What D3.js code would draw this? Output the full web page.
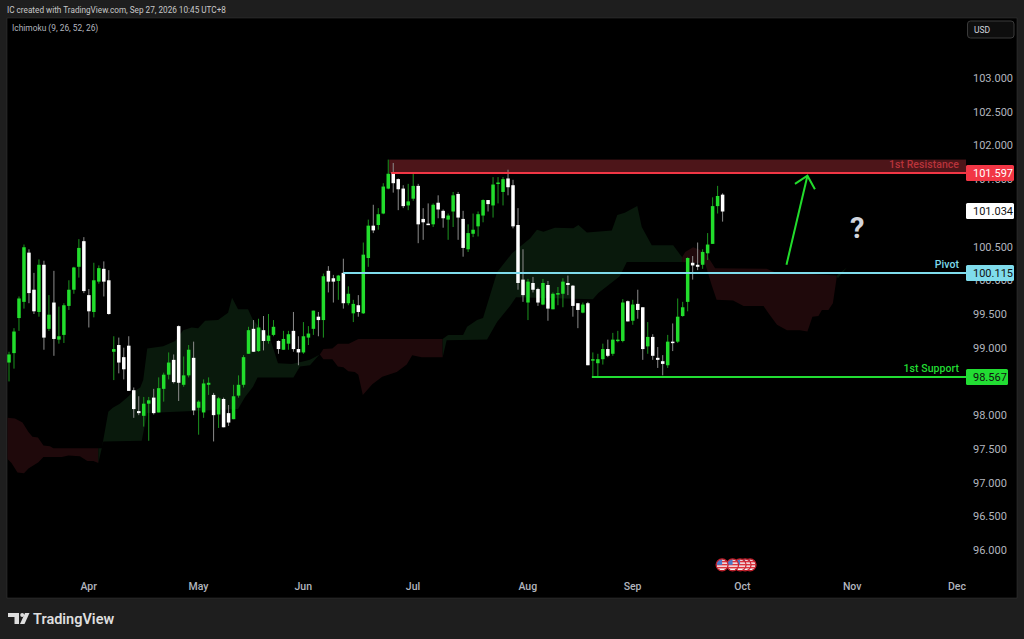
<!DOCTYPE html>
<html>
<head>
<meta charset="utf-8">
<title>IC chart</title>
<script src="https://cdn.jsdelivr.net/npm/d3@7"></script>
<style>
  html, body { margin: 0; padding: 0; background: #1e1e1e; overflow: hidden; }
  svg { display: block; }
  text { font-family: Roboto, sans-serif; }
</style>
</head>
<body>
<svg id="chart" width="1024" height="639"></svg>
<script>
// Daily candles
let opens = [
  98.78, 98.92, 99.44, 99.68, 100.41, 99.86, 99.53, 100.23, 99.28, 99.67,
  99.12, 99.19, 99.62, 99.86, 100.20, 100.58, 99.78, 99.53, 99.98, 100.17,
  100.00, 98.94, 99.04, 98.86, 99.03, 98.37, 98.06, 97.99, 98.17, 98.26,
  98.04, 98.39, 98.60, 98.82, 99.32, 98.45, 98.59, 98.85, 98.11, 98.04,
  98.45, 98.30, 98.01, 98.24, 98.03, 97.94, 98.29, 98.45, 98.91, 99.28,
  98.95, 99.26, 99.10, 99.19, 99.10, 98.97, 99.06, 99.25, 98.98, 98.93,
  99.15, 99.28, 99.46, 99.41, 100.14, 100.03, 99.99, 100.11, 99.66, 99.51,
  99.63, 99.51, 100.33, 100.81, 100.82, 100.99, 101.36, 101.60, 101.50, 101.36,
  101.11, 101.21, 101.40, 100.91, 100.84, 100.83, 101.15, 101.03, 100.90, 101.02,
  101.28, 100.91, 100.46, 100.69, 100.80, 100.96, 101.19, 101.11, 101.43, 101.31,
  101.51, 101.41, 100.82, 100.01, 99.67, 99.96, 99.87, 99.64, 99.93, 99.57,
  99.79, 99.80, 99.96, 99.92, 99.66, 99.52, 99.66, 98.82, 98.77, 98.83,
  98.98, 98.91, 99.10, 99.10, 99.69, 99.40, 99.65, 99.60, 99.02, 99.16,
  98.85, 98.80, 98.74, 99.09, 99.09, 99.47, 99.68, 100.26, 100.23, 100.23,
  100.40, 100.54, 101.10, 101.27
];
let closes = [
  98.90, 99.24, 99.73, 100.49, 99.81, 99.54, 100.23, 99.15, 99.49, 99.13,
  99.17, 99.63, 99.86, 100.19, 100.48, 99.84, 99.54, 100.00, 100.18, 99.98,
  99.50, 98.98, 98.78, 98.68, 98.36, 98.09, 98.03, 98.17, 98.22, 98.03,
  98.40, 98.60, 98.78, 98.49, 98.48, 98.59, 98.97, 98.07, 98.20, 98.47,
  98.48, 98.00, 98.25, 97.82, 97.89, 98.28, 98.45, 98.86, 99.26, 98.94,
  99.30, 99.10, 99.18, 99.31, 98.98, 99.13, 99.20, 98.98, 98.93, 99.17,
  99.21, 99.55, 99.41, 100.06, 99.98, 99.98, 100.07, 99.66, 99.80, 99.65,
  99.53, 100.38, 100.81, 100.74, 100.98, 101.39, 101.58, 101.44, 101.35, 101.10,
  101.17, 101.40, 100.83, 100.86, 100.83, 101.12, 101.05, 100.92, 100.96, 101.26,
  100.93, 100.48, 100.70, 100.75, 100.98, 101.19, 101.13, 101.42, 101.45, 101.50,
  101.38, 100.80, 99.96, 99.78, 99.98, 99.86, 99.67, 99.96, 99.58, 99.80,
  99.81, 99.98, 99.93, 99.62, 99.56, 99.64, 98.74, 98.83, 98.83, 98.98,
  98.88, 99.12, 99.12, 99.67, 99.39, 99.64, 99.56, 98.98, 99.16, 98.88,
  98.82, 98.76, 99.09, 99.08, 99.46, 99.60, 100.33, 100.22, 100.20, 100.42,
  100.53, 101.10, 101.25, 101.02
];
let highs = [
  98.94, 99.29, 99.76, 100.53, 100.46, 100.11, 100.31, 100.29, 99.78, 100.14,
  99.61, 99.66, 100.00, 100.20, 100.61, 100.64, 99.87, 100.26, 100.22, 100.28,
  100.15, 99.17, 99.15, 99.00, 99.17, 98.41, 98.28, 98.27, 98.27, 98.39,
  98.56, 98.63, 98.93, 98.90, 99.33, 98.87, 99.04, 99.09, 98.22, 98.53,
  98.56, 98.33, 98.27, 98.26, 98.15, 98.45, 98.59, 98.89, 99.31, 99.41,
  99.43, 99.47, 99.50, 99.41, 99.11, 99.25, 99.25, 99.53, 99.17, 99.38,
  99.32, 99.55, 99.53, 100.10, 100.21, 100.08, 100.08, 100.32, 99.91, 99.71,
  99.78, 100.56, 100.90, 101.12, 101.07, 101.44, 101.79, 101.74, 101.51, 101.41,
  101.43, 101.58, 101.43, 101.07, 101.14, 101.14, 101.26, 101.05, 100.99, 101.31,
  101.31, 101.03, 100.83, 100.99, 101.02, 101.20, 101.19, 101.53, 101.53, 101.53,
  101.64, 101.49, 101.07, 100.46, 100.02, 100.05, 99.89, 100.02, 99.99, 99.82,
  99.90, 100.03, 100.07, 99.93, 99.66, 99.67, 99.68, 98.93, 98.91, 99.06,
  99.12, 99.22, 99.25, 99.72, 99.70, 99.71, 99.86, 99.60, 99.38, 99.20,
  99.01, 98.89, 99.19, 99.36, 99.73, 99.68, 100.34, 100.36, 100.56, 100.46,
  100.70, 101.23, 101.40, 101.29
];
let lows = [
  98.50, 98.69, 99.25, 99.58, 99.66, 99.50, 99.46, 98.97, 99.25, 98.88,
  99.06, 99.07, 99.56, 99.80, 100.04, 99.81, 99.30, 99.45, 99.95, 99.76,
  99.49, 98.52, 98.62, 98.53, 98.36, 97.96, 98.00, 97.83, 97.62, 98.01,
  98.04, 98.20, 98.53, 98.47, 98.21, 98.42, 98.56, 98.00, 97.71, 97.96,
  98.30, 97.61, 97.81, 97.82, 97.84, 97.94, 98.26, 98.41, 98.91, 98.94,
  98.94, 98.96, 99.06, 99.17, 98.91, 98.97, 98.97, 98.94, 98.74, 98.91,
  99.04, 99.19, 99.17, 99.15, 99.82, 99.67, 99.71, 99.58, 99.63, 99.38,
  99.46, 99.50, 100.20, 100.70, 100.75, 100.98, 101.35, 101.30, 101.04, 101.07,
  101.04, 101.18, 100.55, 100.60, 100.82, 100.79, 100.92, 100.78, 100.60, 100.79,
  100.60, 100.35, 100.42, 100.64, 100.65, 100.86, 101.02, 100.93, 101.14, 101.11,
  101.26, 100.77, 99.86, 99.68, 99.41, 99.82, 99.62, 99.63, 99.40, 99.57,
  99.63, 99.60, 99.78, 99.46, 99.29, 99.51, 98.74, 98.56, 98.56, 98.75,
  98.86, 98.88, 99.08, 99.08, 99.39, 99.34, 99.43, 98.82, 98.91, 98.82,
  98.70, 98.59, 98.70, 98.95, 99.07, 99.46, 99.54, 100.01, 100.15, 100.17,
  100.30, 100.54, 100.99, 100.87
];

// Ichimoku cloud outlines as [bar, price]
let redOneTop = [[-0.3, 97.96], [1.2, 97.95], [2.7, 97.89], [3.9, 97.75], [4.7, 97.68], [5.8, 97.67], [6.9, 97.55], [8.2, 97.54], [8.9, 97.51], [17.9, 97.51]];
let redOneBottom = [[-0.3, 97.35], [0.5, 97.29], [1.7, 97.15], [3.0, 97.14], [3.9, 97.21], [5.9, 97.30], [6.9, 97.38], [10.6, 97.38], [11.9, 97.40], [14.2, 97.39], [15.7, 97.32], [16.9, 97.32], [17.9, 97.29]];
let greenOneTop = [[17.9, 97.51], [18.6, 97.51], [19.9, 98.05], [20.8, 98.11], [22.2, 98.17], [23.8, 98.27], [24.6, 98.33], [26.3, 98.41], [26.9, 98.52], [27.7, 98.99], [30.9, 99.02], [33.3, 99.10], [34.9, 99.26], [36.6, 99.30], [37.9, 99.29], [39.3, 99.40], [41.9, 99.41], [43.9, 99.52], [44.7, 99.74], [45.9, 99.57], [47.9, 99.57], [48.9, 99.41], [52.3, 99.14], [53.9, 98.77], [56.7, 98.76], [58.7, 98.79], [60.3, 98.82], [62.3, 98.90]];
let greenOneBottom = [[17.9, 97.29], [18.9, 97.61], [26.6, 97.62], [27.7, 98.03], [45.9, 98.09], [47.3, 98.27], [48.9, 98.42], [49.8, 98.56], [57.0, 98.56], [58.3, 98.72], [60.3, 98.74], [62.0, 98.88], [62.3, 98.90]];
let redTwoTop = [[62.3, 98.90], [63.0, 98.98], [64.8, 98.99], [65.9, 99.06], [68.1, 99.06], [70.0, 99.13], [86.9, 99.13]];
let redTwoBottom = [[62.3, 98.90], [63.0, 98.83], [64.8, 98.83], [65.9, 98.72], [67.0, 98.71], [68.0, 98.65], [69.3, 98.64], [70.0, 98.60], [70.9, 98.30], [72.8, 98.46], [74.8, 98.57], [77.7, 98.64], [79.7, 98.75], [80.8, 98.89], [82.7, 98.86], [86.9, 98.86]];
let greenTwoTop = [[86.9, 99.13], [88.0, 99.19], [91.0, 99.19], [91.8, 99.31], [93.8, 99.41], [95.0, 99.44], [97.8, 100.12], [100.8, 100.40], [104.4, 100.62], [105.8, 100.75], [107.1, 100.72], [109.4, 100.78], [113.1, 100.77], [114.1, 100.82], [115.8, 100.71], [120.8, 100.74], [121.9, 100.97], [123.4, 101.00], [125.9, 101.10], [126.8, 100.79], [128.8, 100.52], [133.1, 100.52], [134.9, 100.34]];
let greenTwoBottom = [[86.9, 98.86], [87.7, 99.11], [95.8, 99.12], [97.8, 99.38], [100.4, 99.62], [101.6, 99.75], [117.0, 99.72], [118.1, 99.81], [122.4, 100.06], [123.8, 100.27], [134.9, 100.27]];
let redThreeTop = [[134.9, 100.34], [135.5, 100.42], [137.1, 100.49], [138.5, 100.45], [139.8, 100.38], [141.5, 100.18], [151.8, 100.17], [153.5, 100.12], [165.9, 100.07]];
let redThreeBottom = [[134.9, 100.27], [139.5, 100.25], [140.8, 99.93], [141.8, 99.71], [145.1, 99.70], [147.2, 99.62], [151.2, 99.62], [152.2, 99.51], [153.9, 99.34], [155.9, 99.26], [158.5, 99.26], [160.0, 99.24], [161.0, 99.46], [162.2, 99.47], [162.9, 99.56], [164.2, 99.56], [165.1, 99.66], [165.9, 100.06]];
let greenThreeTop = [[165.9, 100.07], [167.9, 100.19]];
let greenThreeBottom = [[165.9, 100.06], [166.1, 100.03], [167.9, 100.19]];

// Axis labels, 101.000 and 98.500 stay hidden behind the price boxes
let priceTicks = [103, 102.5, 102, 101.5, 100.5, 100, 99.5, 99, 98, 97.5, 97, 96.5, 96];
let monthBars = [16, 38, 59, 81, 104, 125, 147, 169, 190];
let monthNames = ["Apr", "May", "Jun", "Jul", "Aug", "Sep", "Oct", "Nov", "Dec"];

// Drawn levels and the arrow
let resistance = 101.597;
let resistanceTop = 101.79;
let pivot = 100.115;
let support = 98.567;
let lastPrice = 101.034;
let levelNames = ["1st Resistance", "Pivot", "1st Support"];
let levelValues = [resistance, pivot, support];
let levelStartBars = [76.6, 67, 116.8];
let levelColors = ["#f23645", "#7fdcec", "#22dd33"];
let labelColors = ["#b8333b", "#7fdcec", "#22dd33"];
let arrowShaft = [[155.8, 100.23], [160.0, 101.55]];
let arrowHead = [[157.5, 101.43], [160.0, 101.55], [161.5, 101.35]];
let eventBars = [142.9, 145, 146.5, 147.5, 148.5];
let eventPrice = 95.78;

let svg = d3.select("#chart");

let x = d3.scaleLinear().domain([0, 143]).range([9, 722.6]);
let y = d3.scaleLinear().domain([96, 103]).range([550, 78]);

// Levels sit on whole pixels like the original
function levelY(v) {
  return Math.ceil(y(v));
}

// Black chart area on the grey page
svg.append("rect")
  .attr("x", 7).attr("y", 18).attr("width", 1010).attr("height", 580)
  .attr("fill", "#000").attr("stroke", "#3a3a3a").attr("stroke-width", 0.5);

svg.append("clipPath").attr("id", "plot")
  .append("rect").attr("x", 7).attr("y", 18).attr("width", 959).attr("height", 580);

let plot = svg.append("g").attr("clip-path", "url(#plot)");

let line = d3.line()
  .x(function (d) { return x(d[0]); })
  .y(function (d) { return y(d[1]); });

// Cloud polygons, top edge out and bottom edge back
let clouds = [
  [redOneTop, redOneBottom, "#1f090b"],
  [greenOneTop, greenOneBottom, "#09190c"],
  [redTwoTop, redTwoBottom, "#1f090b"],
  [greenTwoTop, greenTwoBottom, "#09190c"],
  [redThreeTop, redThreeBottom, "#1f090b"],
  [greenThreeTop, greenThreeBottom, "#09190c"]
];
plot.selectAll("path.cloud")
  .data(clouds)
  .enter()
  .append("path")
  .attr("class", "cloud")
  .attr("d", function (c) {
    return line(c[0].concat(c[1].slice().reverse())) + "Z";
  })
  .attr("fill", function (c) { return c[2]; });

// Resistance zone sits behind the candles
plot.append("rect")
  .attr("x", x(76.2))
  .attr("y", y(resistanceTop))
  .attr("width", 966 - x(76.2))
  .attr("height", levelY(resistance) - y(resistanceTop))
  .attr("fill", "#4d1519");

// Candles
let candles = plot.selectAll("g.candle")
  .data(opens)
  .enter()
  .append("g")
  .attr("class", "candle");

candles.append("line")
  .attr("x1", function (d, i) { return x(i); })
  .attr("x2", function (d, i) { return x(i); })
  .attr("y1", function (d, i) { return y(highs[i]); })
  .attr("y2", function (d, i) { return y(lows[i]); })
  .attr("stroke", function (d, i) { return closes[i] >= d ? "#1c941f" : "#8c8c8c"; })
  .attr("stroke-width", 1);

candles.append("rect")
  .attr("x", function (d, i) { return x(i) - 1.75; })
  .attr("width", 3.5)
  .attr("y", function (d, i) { return y(Math.max(d, closes[i])); })
  .attr("height", function (d, i) { return Math.max(1.5, Math.abs(y(d) - y(closes[i]))); })
  .attr("fill", function (d, i) { return closes[i] >= d ? "#22dd2c" : "#ffffff"; });

// Level lines over the candles
plot.selectAll("line.level")
  .data(levelValues)
  .enter()
  .append("line")
  .attr("class", "level")
  .attr("x1", function (d, i) { return x(levelStartBars[i]); })
  .attr("x2", 966)
  .attr("y1", function (d) { return levelY(d); })
  .attr("y2", function (d) { return levelY(d); })
  .attr("stroke", function (d, i) { return levelColors[i]; })
  .attr("stroke-width", 2);

plot.selectAll("text.level-name")
  .data(levelNames)
  .enter()
  .append("text")
  .attr("class", "level-name")
  .attr("x", 959)
  .attr("y", function (d, i) { return levelY(levelValues[i]) - 5; })
  .attr("text-anchor", "end")
  .attr("font-size", 10.5)
  .attr("font-weight", 500)
  .attr("letter-spacing", 0.05)
  .attr("fill", function (d, i) { return labelColors[i]; })
  .text(function (d) { return d; });

// Arrow and question mark
[arrowShaft, arrowHead].forEach(function (pts) {
  plot.append("path")
    .attr("d", line(pts))
    .attr("fill", "none")
    .attr("stroke", "#22dd2c")
    .attr("stroke-width", 2);
});

plot.append("text")
  .attr("x", x(170))
  .attr("y", y(100.63))
  .attr("text-anchor", "middle")
  .attr("font-size", 29)
  .attr("font-weight", 700)
  .attr("fill", "#d1d4dc")
  .text("?");

// US calendar event flags
let defs = svg.append("defs");
let flags = svg.selectAll("g.flag")
  .data(eventBars.slice().reverse())
  .enter()
  .append("g")
  .attr("class", "flag")
  .attr("transform", function (d) { return "translate(" + x(d) + "," + y(eventPrice) + ")"; });

defs.append("clipPath").attr("id", "flagClip").append("circle").attr("r", 5.5);
flags.append("circle").attr("r", 5.5).attr("fill", "#f4f4f4");
flags.selectAll("rect.stripe")
  .data([-4, -1, 2])
  .enter()
  .append("rect")
  .attr("class", "stripe")
  .attr("clip-path", "url(#flagClip)")
  .attr("x", -6).attr("width", 12)
  .attr("y", function (d) { return d; })
  .attr("height", 1.6)
  .attr("fill", "#e0323c");
flags.append("rect")
  .attr("clip-path", "url(#flagClip)")
  .attr("x", -6).attr("y", -6).attr("width", 6).attr("height", 6)
  .attr("fill", "#4a78c8");
flags.append("circle")
  .attr("r", 6)
  .attr("fill", "none")
  .attr("stroke", "#c8202c")
  .attr("stroke-width", 1.2);

// Price axis
let yAxis = svg.append("g")
  .attr("transform", "translate(973,0)")
  .call(d3.axisRight(y).tickValues(priceTicks).tickFormat(d3.format(".3f")).tickSize(0).tickPadding(0));
yAxis.select(".domain").remove();
yAxis.selectAll("text")
  .attr("fill", "#b2b5be")
  .attr("font-size", 11)
  .attr("font-family", "Roboto, sans-serif");

// Time axis
let xAxis = svg.append("g")
  .attr("transform", "translate(-0.7,583)")
  .call(d3.axisBottom(x).tickValues(monthBars)
    .tickFormat(function (d, i) { return monthNames[i]; })
    .tickSize(0).tickPadding(0));
xAxis.select(".domain").remove();
xAxis.selectAll("text")
  .attr("fill", "#b2b5be")
  .attr("font-size", 10.5)
  .attr("font-weight", 500)
  .attr("font-family", "Roboto, sans-serif");

// Price boxes on the axis
let boxValues = [resistance, lastPrice, pivot, support];
let boxFills = ["#f23645", "#ffffff", "#7fdcec", "#22dd33"];
let boxTexts = ["#ffffff", "#111111", "#111111", "#111111"];
let boxWidths = [48, 48, 48, 42];

let boxes = svg.selectAll("g.box")
  .data(boxValues)
  .enter()
  .append("g")
  .attr("class", "box")
  .attr("transform", function (d) { return "translate(966," + levelY(d) + ")"; });

boxes.append("rect")
  .attr("y", -8)
  .attr("height", 16)
  .attr("rx", 1.5)
  .attr("width", function (d, i) { return boxWidths[i]; })
  .attr("fill", function (d, i) { return boxFills[i]; });

boxes.append("text")
  .attr("x", 7)
  .attr("y", 4)
  .attr("font-size", 11)
  .attr("fill", function (d, i) { return boxTexts[i]; })
  .text(d3.format(".3f"));

// Header texts and the USD button
svg.append("text")
  .attr("x", 7).attr("y", 12.5)
  .attr("font-size", 8.2)
  .attr("fill", "#c8c8c8")
  .text("IC created with TradingView.com, Sep 27, 2026 10:45 UTC+8");

svg.append("text")
  .attr("x", 12).attr("y", 31)
  .attr("font-size", 8.4)
  .attr("fill", "#b2b5be")
  .text("Ichimoku (9, 26, 52, 26)");

svg.append("rect")
  .attr("x", 967.5).attr("y", 21).attr("width", 46.5).attr("height", 17).attr("rx", 3)
  .attr("fill", "#0e0e0e").attr("stroke", "#3a3a3a");

svg.append("text")
  .attr("x", 974).attr("y", 33)
  .attr("font-size", 8.5)
  .attr("fill", "#d1d4dc")
  .text("USD");

// TradingView logo
let logo = svg.append("g").attr("fill", "#dedede");
logo.append("path").attr("d", "M8 613H19V624H14.5V617H8Z");
logo.append("circle").attr("cx", 22.2).attr("cy", 615).attr("r", 2);
logo.append("path").attr("d", "M25 613H29.5L24.5 624H20Z");

svg.append("text")
  .attr("x", 33).attr("y", 623.5)
  .attr("font-family", "Inter, sans-serif")
  .attr("font-size", 14.5)
  .attr("font-weight", 600)
  .attr("fill", "#dedede")
  .text("TradingView");
</script>
</body>
</html>
